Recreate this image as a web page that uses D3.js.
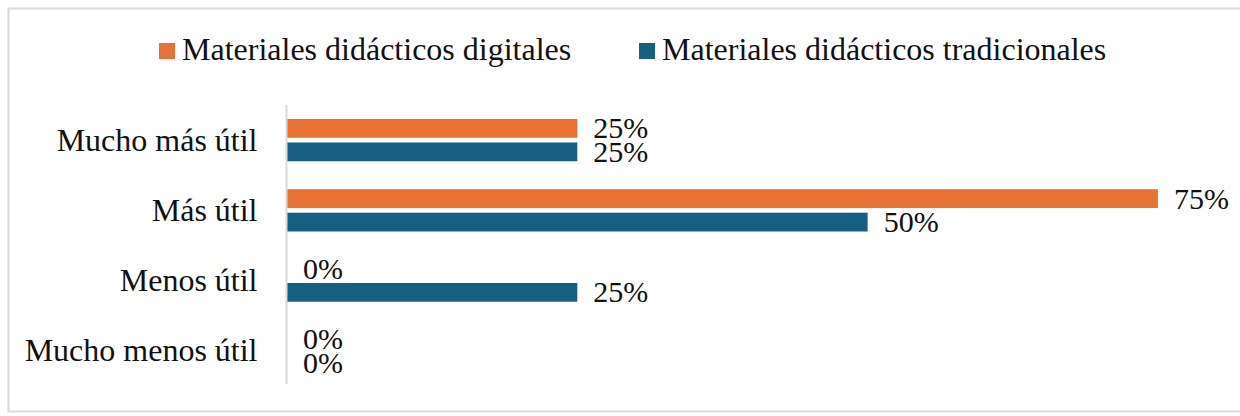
<!DOCTYPE html>
<html>
<head>
<meta charset="utf-8">
<script src="https://cdn.jsdelivr.net/npm/d3@7"></script>
<style>
  html, body { margin: 0; padding: 0; background: #fff; }
  svg { display: block; }
  text { font-family: "Liberation Serif", "Times New Roman", serif; fill: #111; }
</style>
</head>
<body>
<svg id="chart" width="1240" height="416"></svg>
<script>
const categories = ["Mucho más útil", "Más útil", "Menos útil", "Mucho menos útil"];
const seriesNames = ["Materiales didácticos digitales", "Materiales didácticos tradicionales"];
const digitales = [0.25, 0.75, 0, 0];
const tradicionales = [0.25, 0.50, 0.25, 0];
const colors = ["#E97132", "#156082"];
const serif = '"Liberation Serif", "Times New Roman", serif';

const svg = d3.select("#chart");
const W = 1240, H = 416;

// outer border
svg.append("rect")
  .attr("x", 8.5).attr("y", 8.5)
  .attr("width", W + 20).attr("height", 403)
  .attr("fill", "none").attr("stroke", "#D9D9D9").attr("stroke-width", 2);

const x = d3.scaleLinear().domain([0, 0.8]).range([287, 287 + 929]);
const y0 = d3.scaleBand().domain(categories).range([105, 386]).padding(0);
const inset = 14;
const y1 = d3.scaleBand().domain(seriesNames)
  .range([inset, y0.bandwidth() - inset]).paddingInner(0.2);

const data = categories.map((c, i) => ({
  cat: c,
  vals: [
    { s: seriesNames[0], v: digitales[i], c: colors[0] },
    { s: seriesNames[1], v: tradicionales[i], c: colors[1] }
  ]
}));

const groups = svg.append("g").selectAll("g").data(data).join("g")
  .attr("transform", d => `translate(0,${y0(d.cat)})`);

groups.selectAll("rect").data(d => d.vals).join("rect")
  .attr("x", x(0))
  .attr("y", d => y1(d.s))
  .attr("width", d => x(d.v) - x(0))
  .attr("height", y1.bandwidth())
  .attr("fill", d => d.c);

groups.selectAll("text.lbl").data(d => d.vals).join("text")
  .attr("class", "lbl")
  .attr("x", d => x(d.v) + 16)
  .attr("y", d => y1(d.s) + y1.bandwidth() / 2)
  .attr("dy", "0.33em")
  .style("font-family", serif)
  .style("font-size", "30px")
  .text(d => d3.format(".0%")(d.v));

// y axis
const yAxis = svg.append("g")
  .attr("transform", `translate(${x(0) - 0.5},0)`)
  .call(d3.axisLeft(y0).tickSize(0).tickPadding(29));
yAxis.select(".domain").attr("stroke", "#D9D9D9").attr("stroke-width", 2)
  .attr("d", `M0,105V384`);
yAxis.selectAll("text")
  .style("font-size", "32px")
  .style("font-family", serif)
  .attr("fill", "#111")
  .attr("dy", "0.33em");

// legend
const legendX = [159, 639];
const leg = svg.append("g").selectAll("g").data(seriesNames).join("g")
  .attr("transform", (d, i) => `translate(${legendX[i]},0)`);
leg.append("rect").attr("x", 0).attr("y", 43).attr("width", 16).attr("height", 16)
  .attr("fill", (d, i) => colors[i]);
leg.append("text").attr("x", 23).attr("y", 60)
  .style("font-family", serif)
  .style("font-size", "32px").text(d => d);
</script>
</body>
</html>
